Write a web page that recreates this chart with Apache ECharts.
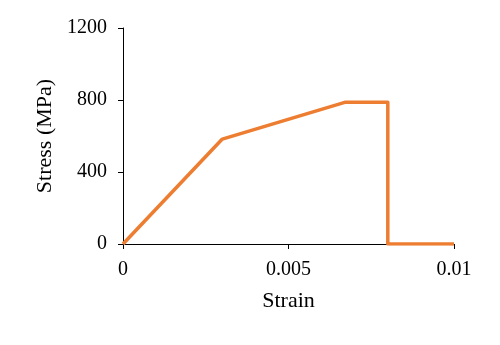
<!DOCTYPE html>
<html><head><meta charset="utf-8">
<script src="https://cdn.jsdelivr.net/npm/echarts@6/dist/echarts.min.js"></script>
<style>html,body{margin:0;padding:0;background:#fff}#c{width:500px;height:345px}</style>
</head><body><div id="c"></div>
<script>
const strain = [0, 0.003, 0.0067, 0.008, 0.008, 0.01];
const stress = [0, 583, 787, 787, 0, 0];
const xTicks = [0, 0.005, 0.01];
const yTicks = [0, 400, 800, 1200];

const chart = echarts.init(document.getElementById('c'));
const font = '"Liberation Serif", "Times New Roman", serif';
chart.setOption({
  animation: false,
  grid: {left: 123, right: 46, top: 28, bottom: 101, containLabel: false},
  xAxis: {
    type: 'value', min: 0, max: 0.01, interval: 0.005,
    name: 'Strain', nameLocation: 'middle', nameGap: 46,
    nameTextStyle: {fontFamily: font, fontSize: 22, color: '#000'},
    axisLine: {lineStyle: {color: '#000', width: 1}},
    axisTick: {show: true, length: 5, lineStyle: {color: '#000'}},
    axisLabel: {fontFamily: font, fontSize: 20, color: '#000', margin: 16,
      formatter: v => { const s = xTicks.find(t => Math.abs(t - v) < 1e-9); return s === undefined ? '' : String(s); }},
    splitLine: {show: false}
  },
  yAxis: {
    type: 'value', min: 0, max: 1200, interval: 400,
    name: 'Stress (MPa)', nameLocation: 'middle', nameGap: 66,
    nameTextStyle: {fontFamily: font, fontSize: 22, color: '#000'},
    axisLine: {show: true, lineStyle: {color: '#000', width: 1}},
    axisTick: {show: true, length: 5, lineStyle: {color: '#000'}},
    axisLabel: {fontFamily: font, fontSize: 20, color: '#000', margin: 16,
      formatter: v => { const s = yTicks.find(t => Math.abs(t - v) < 1e-6); return s === undefined ? '' : String(s); }},
    splitLine: {show: false}
  },
  series: [{
    type: 'line', data: strain.map((x, i) => [x, stress[i]]),
    showSymbol: false, symbol: 'none',
    lineStyle: {color: '#ED7D31', width: 3.5, join: 'round'}
  }]
});
</script></body></html>
